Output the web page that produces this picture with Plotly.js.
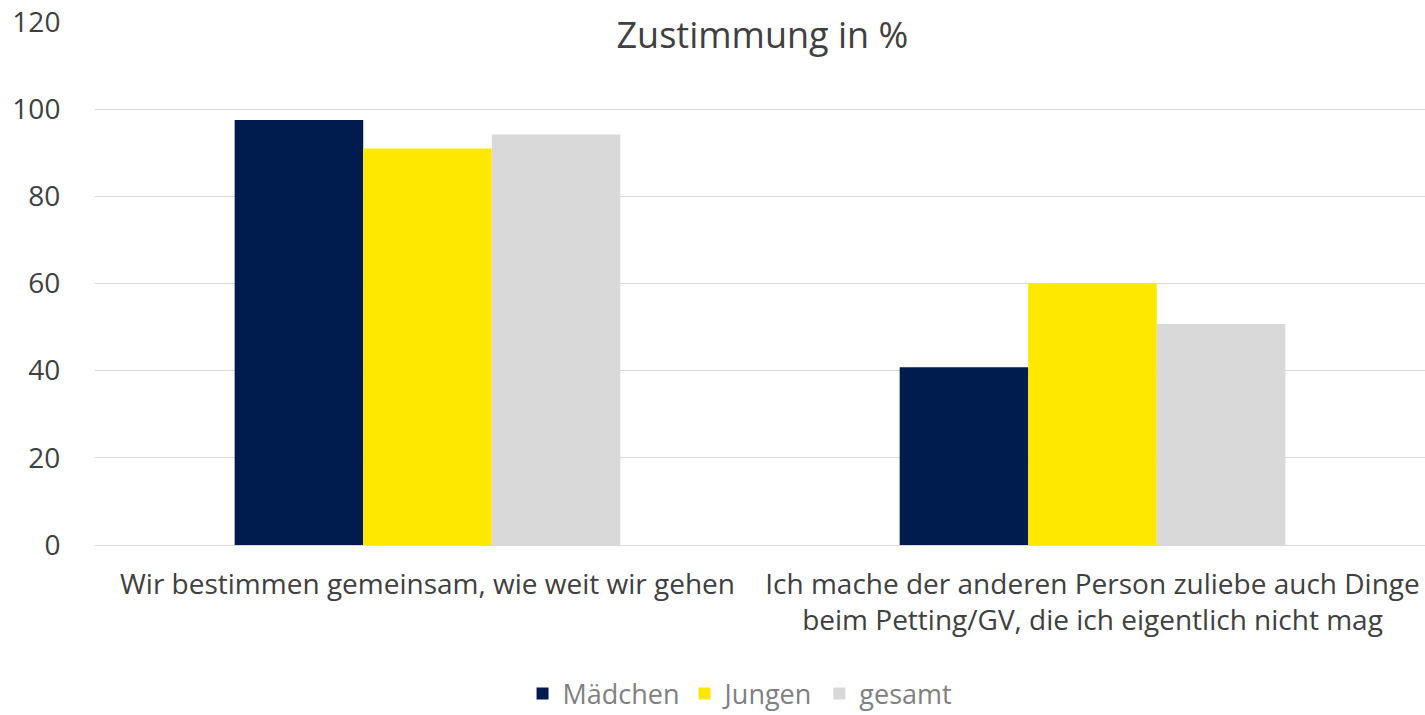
<!DOCTYPE html>
<html><head><meta charset="utf-8">
<script src="https://cdn.plot.ly/plotly-3.0.1.min.js"></script>
<style>html,body{margin:0;padding:0;background:#fff}</style>
</head><body><div id="chart" style="width:1425px;height:715px"></div>
<script>
const categories = ["Wir bestimmen gemeinsam, wie weit wir gehen", "Ich mache der anderen Person zuliebe auch Dinge<br>beim Petting/GV, die ich eigentlich nicht mag"];
const seriesNames = ["Mädchen", "Jungen", "gesamt"];
const maedchen = [97.5, 40.8];
const jungen = [91, 60];
const gesamt = [94.2, 50.7];
const colors = ["#001B4E", "#FFE800", "#D9D9D9"];
const values = [maedchen, jungen, gesamt];
const font = "Open Sans, sans-serif";
const traces = values.map((v, i) => ({
  type: "bar", x: categories, y: v, name: seriesNames[i],
  marker: {color: colors[i]}, hoverinfo: "none"
}));
const layout = {
  width: 1425, height: 715,
  margin: {l: 95, r: 0, t: 22, b: 170},
  paper_bgcolor: "#fff", plot_bgcolor: "#fff",
  barmode: "group", bargap: 0.42, bargroupgap: 0,
  font: {family: font, color: "#404040"},
  title: {text: "Zustimmung in %", font: {family: font, size: 36, color: "#404040"},
          x: 0.535, xanchor: "center", y: 0.951, yanchor: "middle", yref: "container"},
  xaxis: {tickfont: {size: 28, color: "#404040"}, showgrid: false, zeroline: false,
          showline: true, linecolor: "#D9D9D9", ticks: "outside", ticklen: 14, tickcolor: "rgba(0,0,0,0)"},
  yaxis: {range: [0, 120], dtick: 20, tickfont: {size: 28, color: "#404040"},
          showgrid: true, gridcolor: "#D9D9D9", gridwidth: 1, zeroline: false,
          ticks: "outside", ticklen: 28, tickcolor: "rgba(0,0,0,0)", showline: false},
  legend: {orientation: "h", x: 0.485, xanchor: "center", y: 21/715, yanchor: "middle", yref: "container",
           font: {size: 27, color: "#808080"}, itemwidth: 30, traceorder: "normal"},
  showlegend: true
};
Plotly.newPlot("chart", traces, layout, {displayModeBar: false, staticPlot: true});
</script></body></html>
